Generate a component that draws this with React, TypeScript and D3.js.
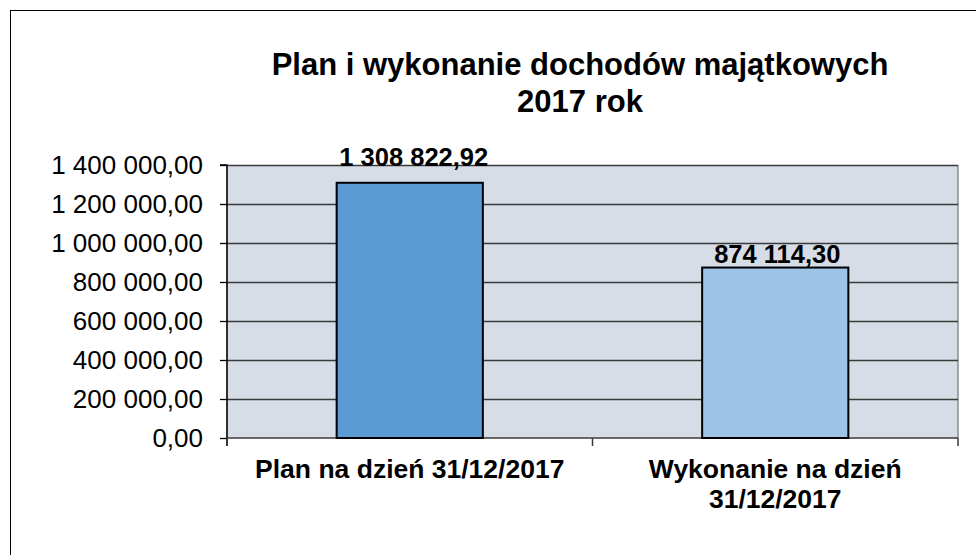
import React, { useEffect, useRef } from 'react';
import * as d3 from 'd3';

// chart data
const categories = ['Plan na dzień 31/12/2017', 'Wykonanie na dzień 31/12/2017'];
const categoryLines = [['Plan na dzień 31/12/2017'], ['Wykonanie na dzień', '31/12/2017']];
const values = [1308822.92, 874114.3];
const barColors = ['#5b9bd5', '#9dc3e6'];
const yTicks = [0, 200000, 400000, 600000, 800000, 1000000, 1200000, 1400000];
const titleLines = ['Plan i wykonanie dochodów majątkowych', '2017 rok'];

const App = () => {
  const svgRef = useRef<SVGSVGElement>(null);

  useEffect(() => {
    const svg = d3.select(svgRef.current);
    svg.selectAll('*').remove();

    const width = 976;
    const height = 555;
    const plot = { left: 227, right: 958, top: 165, bottom: 438 };
    const font = '"Liberation Sans", Arial, sans-serif';

    const pl = d3.formatLocale({ decimal: ',', thousands: ' ', grouping: [3], currency: ['', ''] });
    const fmt = pl.format(',.2f');

    svg.attr('width', width).attr('height', height);

    // outer frame
    svg.append('rect')
      .attr('x', 10.5).attr('y', 10.5)
      .attr('width', 1000).attr('height', 600)
      .attr('fill', '#fff')
      .attr('stroke', '#000')
      .attr('stroke-width', 1);

    const x = d3.scaleBand()
      .domain(categories)
      .range([plot.left, plot.right])
      .paddingInner(0.6)
      .paddingOuter(0.3);

    const xOuter = d3.scaleBand()
      .domain(categories)
      .range([plot.left, plot.right]);

    const y = d3.scaleLinear()
      .domain([0, 1400000])
      .range([plot.bottom, plot.top]);

    // plot background
    svg.append('rect')
      .attr('x', plot.left).attr('y', plot.top)
      .attr('width', plot.right - plot.left)
      .attr('height', plot.bottom - plot.top)
      .attr('fill', '#d7dde7');

    // right edge
    svg.append('line')
      .attr('x1', plot.right).attr('x2', plot.right)
      .attr('y1', plot.top).attr('y2', plot.bottom)
      .attr('stroke', '#8c8c8c')
      .attr('stroke-width', 1.5);

    // grid lines
    svg.append('g')
      .selectAll('line')
      .data(yTicks.slice(1))
      .enter().append('line')
      .attr('x1', plot.left).attr('x2', plot.right)
      .attr('y1', d => Math.round(y(d)) + 0.5)
      .attr('y2', d => Math.round(y(d)) + 0.5)
      .attr('stroke', '#3a3a3a')
      .attr('stroke-width', 1.3);

    // y axis
    const yAxis = svg.append('g')
      .attr('transform', `translate(${plot.left},0)`)
      .call(d3.axisLeft(y).tickValues(yTicks).tickSize(7).tickPadding(17).tickFormat(d => fmt(d as number)));
    yAxis.selectAll('text')
      .style('font-family', font)
      .style('font-size', '26px')
      .style('fill', '#000');
    yAxis.selectAll('line').attr('stroke', '#000').attr('stroke-width', 1.3);
    yAxis.select('.domain').attr('stroke', '#000').attr('stroke-width', 1.6)
      .attr('d', `M-7,${plot.top}H0V${plot.bottom + 8}`);

    // x axis baseline and category ticks
    svg.append('line')
      .attr('x1', plot.left).attr('x2', plot.right)
      .attr('y1', plot.bottom).attr('y2', plot.bottom)
      .attr('stroke', '#3a3a3a')
      .attr('stroke-width', 1.5);
    const bounds = [...categories.map(c => xOuter(c) as number), plot.right];
    svg.append('g')
      .selectAll('line')
      .data(bounds)
      .enter().append('line')
      .attr('x1', d => d).attr('x2', d => d)
      .attr('y1', plot.bottom).attr('y2', plot.bottom + 8)
      .attr('stroke', '#3a3a3a')
      .attr('stroke-width', 1.5);

    // bars
    svg.append('g')
      .selectAll('rect')
      .data(values)
      .enter().append('rect')
      .attr('x', (d, i) => x(categories[i]) as number)
      .attr('y', d => y(d))
      .attr('width', x.bandwidth())
      .attr('height', d => plot.bottom - y(d))
      .attr('fill', (d, i) => barColors[i])
      .attr('stroke', '#000')
      .attr('stroke-width', 2);

    // value labels
    svg.append('g')
      .selectAll('text')
      .data(values)
      .enter().append('text')
      .attr('x', (d, i) => (x(categories[i]) as number) + x.bandwidth() / 2 + (i === 0 ? 4 : 2))
      .attr('y', (d, i) => y(d) - 5 - (i === 0 ? 12 : 0))
      .attr('text-anchor', 'middle')
      .style('font-family', font)
      .style('font-size', '25.5px')
      .style('font-weight', 'bold')
      .style('fill', '#000')
      .text(d => fmt(d));

    // category labels
    categoryLines.forEach((lines, i) => {
      const cx = (x(categories[i]) as number) + x.bandwidth() / 2;
      lines.forEach((t, j) => {
        svg.append('text')
          .attr('x', cx)
          .attr('y', 478 + j * 30)
          .attr('text-anchor', 'middle')
          .style('font-family', font)
          .style('font-size', '26.5px')
          .style('font-weight', 'bold')
          .style('fill', '#000')
          .text(t);
      });
    });

    // title
    titleLines.forEach((t, j) => {
      svg.append('text')
        .attr('x', 580)
        .attr('y', 75 + j * 37)
        .attr('text-anchor', 'middle')
        .style('font-family', font)
        .style('font-size', '31px')
        .style('font-weight', 'bold')
        .style('fill', '#000')
        .text(t);
    });
  }, []);

  return (
    <svg ref={svgRef} style={{ position: 'absolute', left: 0, top: 0, background: '#fff' }}></svg>
  );
};

export default App;
